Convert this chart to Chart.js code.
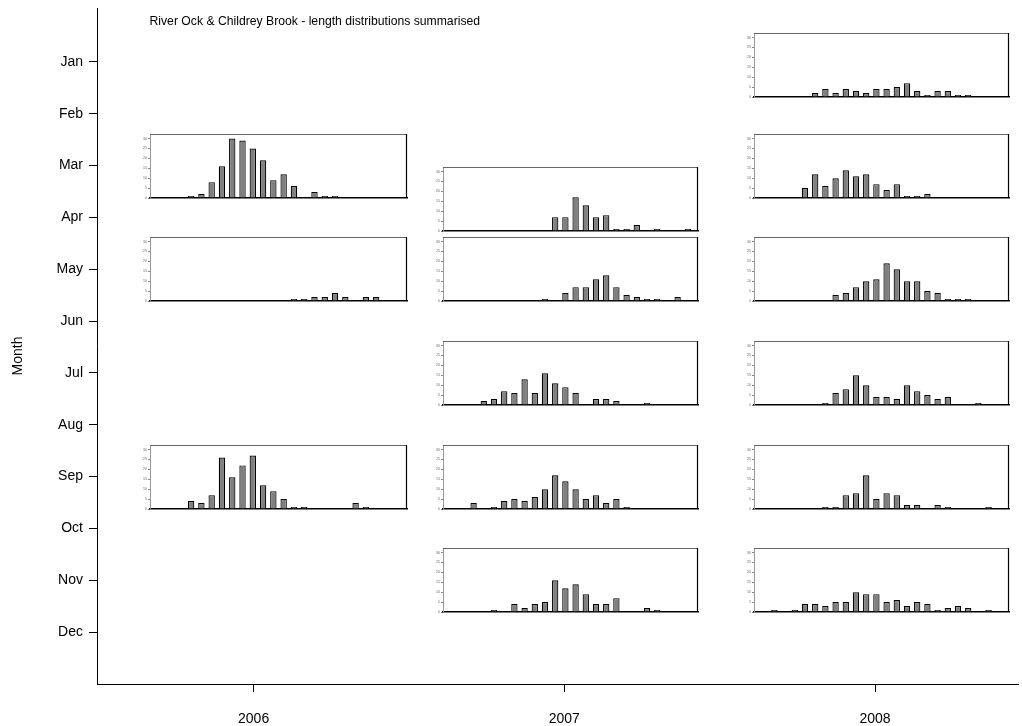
<!DOCTYPE html>
<html>
<head>
<meta charset="utf-8">
<script src="https://cdn.jsdelivr.net/npm/chart.js@4.4.1/dist/chart.umd.min.js"></script>
<style>
  html, body { margin: 0; padding: 0; background: #fff; }
  #wrap { position: relative; width: 1022px; height: 726px; }
  #wrap canvas { position: absolute; left: 0; top: 0; }
</style>
</head>
<body>
<div id="wrap"><canvas id="main" width="1022" height="726"></canvas></div>
<script>
// Outer frame: sampling month (rows) against year (columns)
const months = ['Jan', 'Feb', 'Mar', 'Apr', 'May', 'Jun', 'Jul', 'Aug', 'Sep', 'Oct', 'Nov', 'Dec'];
const years = [2006, 2007, 2008];

// Length-class edges (mm); fish counts fall in the 24 classes between them
const lengthEdges = [0, 10, 20, 30, 40, 50, 60, 70, 80, 90, 100, 110, 120,
                     130, 140, 150, 160, 170, 180, 190, 200, 210, 220, 230, 240];
const countTicks = [0, 5, 10, 15, 20, 25, 30];

// Counts per length class for each survey
const mar2006 = [0, 0, 0, 1, 2, 8, 16, 30, 29, 25, 19, 9, 12, 6, 0, 3, 1, 1, 0, 0, 0, 0, 0, 0];
const may2006 = [0, 0, 0, 0, 0, 0, 0, 0, 0, 0, 0, 0, 0, 1, 1, 2, 2, 4, 2, 0, 2, 2, 0, 0];
const sep2006 = [0, 0, 0, 4, 3, 7, 26, 16, 22, 27, 12, 9, 5, 1, 1, 0, 0, 0, 0, 3, 1, 0, 0, 0];
const apr2007 = [0, 0, 0, 0, 0, 0, 0, 0, 0, 0, 7, 7, 17, 13, 7, 8, 1, 1, 3, 0, 1, 0, 0, 1];
const may2007 = [0, 0, 0, 0, 0, 0, 0, 0, 0, 1, 0, 4, 7, 7, 11, 13, 7, 3, 2, 1, 1, 0, 2, 0];
const jul2007 = [0, 0, 0, 2, 3, 7, 6, 13, 6, 16, 11, 9, 6, 0, 3, 3, 2, 0, 0, 1, 0, 0, 0, 0];
const sep2007 = [0, 0, 3, 0, 1, 4, 5, 4, 6, 10, 17, 14, 10, 5, 7, 3, 5, 1, 0, 0, 0, 0, 0, 0];
const nov2007 = [0, 0, 0, 0, 1, 0, 4, 2, 4, 5, 16, 12, 14, 9, 4, 4, 7, 0, 0, 2, 1, 0, 0, 0];
const jan2008 = [0, 0, 0, 0, 0, 2, 4, 2, 4, 3, 2, 4, 4, 5, 7, 3, 1, 3, 3, 1, 1, 0, 0, 0];
const mar2008 = [0, 0, 0, 0, 5, 12, 6, 10, 14, 11, 12, 7, 4, 7, 1, 1, 2, 0, 0, 0, 0, 0, 0, 0];
const may2008 = [0, 0, 0, 0, 0, 0, 0, 3, 4, 7, 10, 11, 19, 16, 10, 10, 5, 4, 1, 1, 1, 0, 0, 0];
const jul2008 = [0, 0, 0, 0, 0, 0, 1, 6, 8, 15, 10, 4, 4, 3, 10, 7, 5, 3, 4, 0, 0, 1, 0, 0];
const sep2008 = [0, 0, 0, 0, 0, 0, 1, 1, 7, 8, 17, 5, 8, 7, 2, 2, 0, 2, 1, 0, 0, 0, 1, 0];
const nov2008 = [0, 1, 0, 1, 4, 4, 3, 5, 5, 10, 9, 9, 5, 6, 3, 5, 4, 1, 2, 3, 2, 0, 1, 0];

// Survey year and month (month as position on the Jan..Dec axis)
const surveys = [
  { year: 2006, month: 3, counts: mar2006 },
  { year: 2006, month: 5, counts: may2006 },
  { year: 2006, month: 9, counts: sep2006 },
  { year: 2007, month: 3.65, counts: apr2007 },
  { year: 2007, month: 5, counts: may2007 },
  { year: 2007, month: 7, counts: jul2007 },
  { year: 2007, month: 9, counts: sep2007 },
  { year: 2007, month: 11, counts: nov2007 },
  { year: 2008, month: 1.06, counts: jan2008 },
  { year: 2008, month: 3, counts: mar2008 },
  { year: 2008, month: 5, counts: may2008 },
  { year: 2008, month: 7, counts: jul2008 },
  { year: 2008, month: 9, counts: sep2008 },
  { year: 2008, month: 11, counts: nov2008 }
];

// Inset placement (in outer-axis units)
const insetSpan = { 2006: [-0.335, 0.495], 2007: [-0.39, 0.43], 2008: [-0.39, 0.43] };
const insetHalfHeight = 0.617;

const FONT = '"Liberation Sans", Arial, Helvetica, sans-serif';

// Heading and the rotated "Month" caption
const captionPlugin = {
  id: 'captions',
  afterDraw(chart) {
    const { ctx, chartArea: a } = chart;
    const x = chart.scales.x.getPixelForValue(2006 + insetSpan[2006][0]);
    ctx.save();
    ctx.fillStyle = '#000';
    ctx.textBaseline = 'middle';
    ctx.textAlign = 'left';
    ctx.font = '12.2px ' + FONT;
    ctx.fillText('River Ock & Childrey Brook - length distributions summarised', x, a.top + 14);
    ctx.font = '14px ' + FONT;
    ctx.textAlign = 'center';
    ctx.translate(18, (a.top + a.bottom) / 2 + 10);
    ctx.rotate(-Math.PI / 2);
    ctx.fillText('Month', 0, 0);
    ctx.restore();
  }
};

const mainChart = new Chart(document.getElementById('main'), {
  type: 'scatter',
  data: { datasets: [{ data: [] }] },
  options: {
    responsive: false,
    animation: false,
    devicePixelRatio: 1,
    layout: { padding: { top: 8, right: 4, left: 0, bottom: 0 } },
    plugins: { legend: { display: false }, tooltip: { enabled: false } },
    scales: {
      x: {
        type: 'linear', min: 2005.496, max: 2008.46,
        afterBuildTicks: s => { s.ticks = years.map(v => ({ value: v })); },
        afterFit: s => { s.height = 42; s.paddingLeft = 0; s.paddingRight = 0; },
        grid: { drawOnChartArea: false, tickLength: 8, color: '#000', lineWidth: 1 },
        border: { color: '#000', width: 1 },
        ticks: { color: '#000', font: { family: FONT, size: 14 }, padding: 19, maxRotation: 0,
                 callback: v => String(v) }
      },
      y: {
        type: 'linear', reverse: true, min: -0.04, max: 13,
        afterBuildTicks: s => { s.ticks = months.map((m, i) => ({ value: i + 1 })); },
        afterFit: s => { s.width = 97; s.paddingTop = 0; s.paddingBottom = 0; },
        grid: { drawOnChartArea: false, tickLength: 8, color: '#000', lineWidth: 1 },
        border: { color: '#000', width: 1 },
        ticks: { color: '#000', font: { family: FONT, size: 14 }, padding: 6,
                 callback: v => months[Math.round(v) - 1] }
      }
    }
  },
  plugins: [captionPlugin]
});

// Top and right edges of each inset's plot area
const framePlugin = {
  id: 'frame',
  afterDraw(chart) {
    const { ctx, chartArea: a } = chart;
    ctx.save();
    ctx.lineWidth = 1.2;
    ctx.strokeStyle = '#666';
    ctx.beginPath();
    ctx.moveTo(a.left, a.top + 0.5);
    ctx.lineTo(a.right, a.top + 0.5);
    ctx.stroke();
    ctx.strokeStyle = '#000';
    ctx.beginPath();
    ctx.moveTo(a.right - 0.5, a.top);
    ctx.lineTo(a.right - 0.5, a.bottom);
    ctx.stroke();
    ctx.restore();
  }
};

const wrap = document.getElementById('wrap');
const xs = mainChart.scales.x;
const ys = mainChart.scales.y;
const padL = 10, padR = 2, padT = 2, padB = 7;

surveys.forEach(s => {
  const span = insetSpan[s.year];
  const left = Math.round(xs.getPixelForValue(s.year + span[0]));
  const right = Math.round(xs.getPixelForValue(s.year + span[1]));
  const top = Math.round(ys.getPixelForValue(s.month - insetHalfHeight));
  const bottom = Math.round(ys.getPixelForValue(s.month + insetHalfHeight));
  const cv = document.createElement('canvas');
  cv.width = right - left + padL + padR;
  cv.height = bottom - top + padT + padB;
  cv.style.left = (left - padL) + 'px';
  cv.style.top = (top - padT) + 'px';
  wrap.appendChild(cv);
  const showLengths = s.month > 10;

  new Chart(cv, {
    type: 'bar',
    data: {
      datasets: [{
        data: s.counts.map((c, i) => ({ x: i + 1, y: c })),
        backgroundColor: '#808080',
        borderColor: '#000',
        borderWidth: 1.2,
        barPercentage: 0.62,
        categoryPercentage: 1
      }]
    },
    options: {
      responsive: false,
      animation: false,
      devicePixelRatio: 1,
      layout: { padding: { top: padT, right: padR, left: 0, bottom: 0 } },
      plugins: { legend: { display: false }, tooltip: { enabled: false } },
      scales: {
        x: {
          type: 'linear', min: 0, max: 25, offset: false,
          afterBuildTicks: sc => { sc.ticks = lengthEdges.map((e, i) => ({ value: i + 0.5 })); },
          afterFit: sc => { sc.height = padB; sc.paddingLeft = 0; sc.paddingRight = 0; },
          grid: { display: false, offset: false },
          border: { color: '#000', width: 1.5 },
          ticks: { display: showLengths, autoSkip: false, maxRotation: 0, padding: 1,
                   color: '#777', font: { family: FONT, size: 3 },
                   callback: (v, i) => String(lengthEdges[i]) }
        },
        y: {
          min: 0, max: 32.3,
          afterBuildTicks: sc => { sc.ticks = countTicks.map(v => ({ value: v })); },
          afterFit: sc => { sc.width = padL; sc.paddingTop = 0; sc.paddingBottom = 0; },
          grid: { drawOnChartArea: false, tickLength: 2, color: '#888' },
          border: { color: '#999', width: 1 },
          ticks: { padding: 1, color: '#666', font: { family: FONT, size: 3.5 } }
        }
      }
    },
    plugins: [framePlugin]
  });
});
</script>
</body>
</html>
